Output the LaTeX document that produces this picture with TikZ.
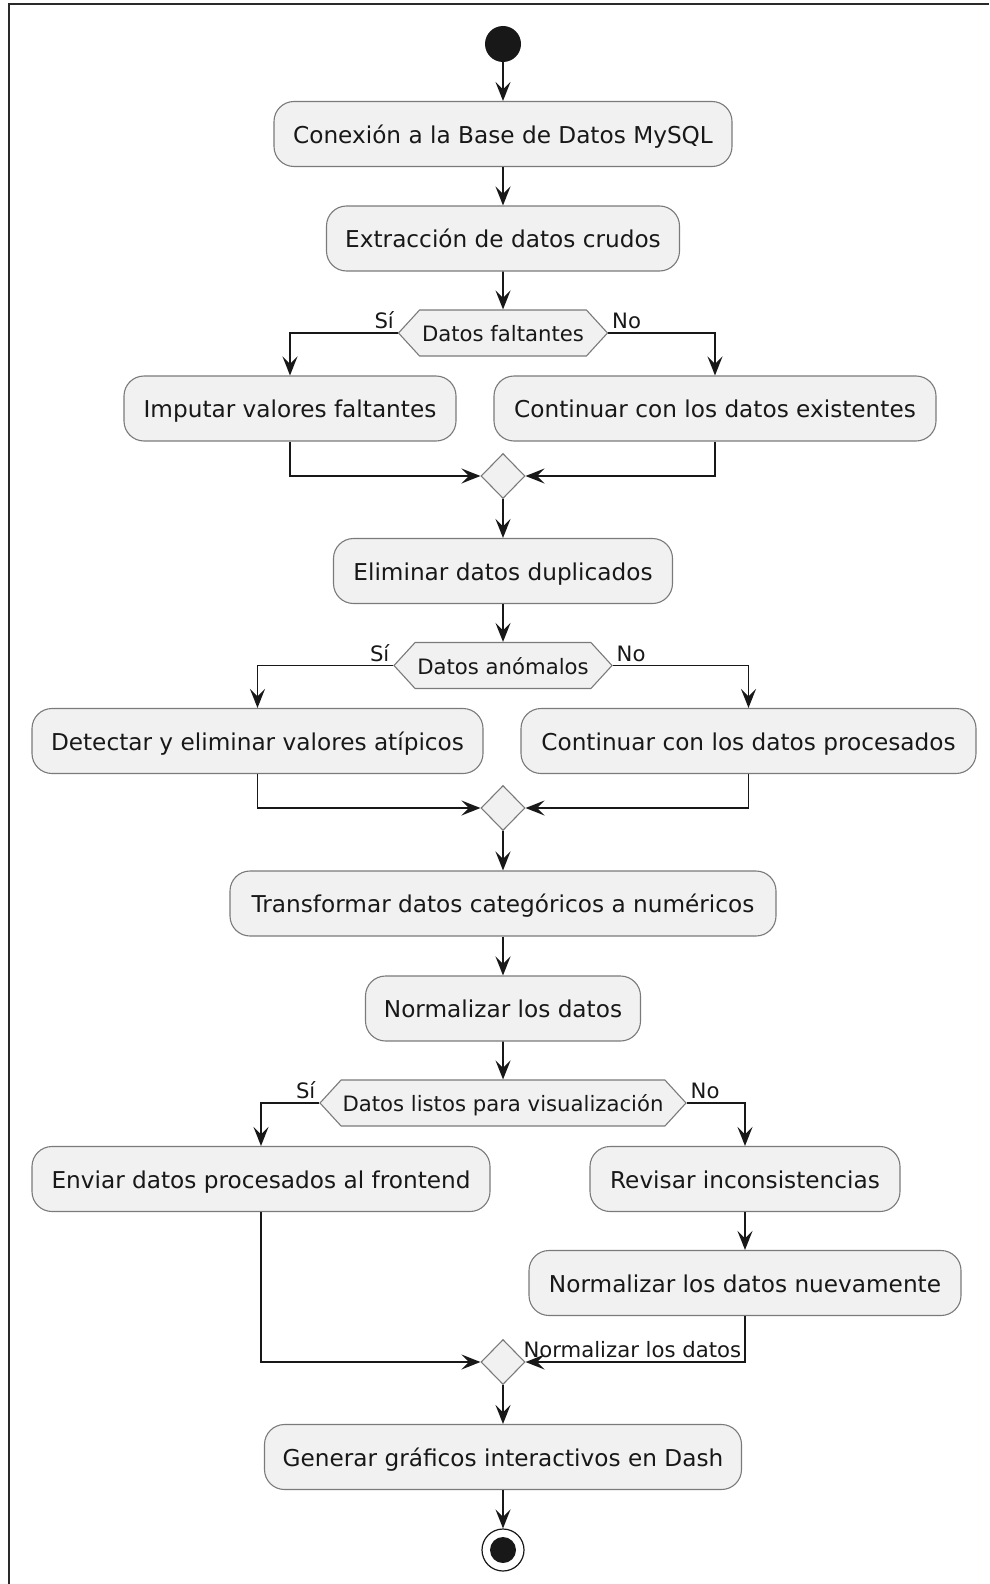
\documentclass[tikz,border=0pt]{standalone}
\usepackage{fontspec}
\setmainfont{DejaVu Sans}
\usetikzlibrary{arrows.meta,shapes.geometric,shapes.symbols}
\definecolor{actfill}{HTML}{F1F1F1}
\definecolor{actline}{HTML}{181818}
\definecolor{edgegray}{HTML}{7A7A7A}
\definecolor{framecol}{HTML}{2A2A2A}

\tikzset{
  act/.style={draw=edgegray, line width=1.1pt, fill=actfill, rounded corners=20pt,
    minimum height=65pt, inner sep=0pt, text=actline,
    text height=19pt, text depth=0.5pt,
    font=\fontsize{23.2}{28}\selectfont},
  test/.style={signal, signal to=west and east, signal pointer angle=95,
    draw=edgegray, line width=1.1pt, fill=actfill, minimum height=46pt,
    inner sep=0pt, text=actline, text height=17.5pt, text depth=0pt,
    font=\fontsize{21.2}{25}\selectfont},
  merge/.style={diamond, draw=edgegray, line width=1.1pt, fill=actfill,
    minimum width=44pt, minimum height=45pt, inner sep=0pt},
  flow/.style={draw=actline, line width=1.8pt,
    -{Stealth[length=19pt,width=15pt,inset=7.5pt]}},
  lbl/.style={font=\fontsize{21.2}{25}\selectfont, inner sep=3pt, text=actline},
}

\begin{document}
\begin{tikzpicture}[x=1pt, y=-1pt]
\useasboundingbox (0,0) rectangle (989,1584);
% page frame (top and left edges)
\draw[framecol, line width=2pt] (9,1584) -- (9,4.5) -- (989,4.5);

% activities
\node[circle, fill=actline, minimum size=36pt, inner sep=0pt] (start) at (503,44) {};
\node[act, minimum width=458pt] (b1) at (503,134) {Conexión a la Base de Datos MySQL};
\node[act, minimum width=353pt] (b2) at (503,238.5) {Extracción de datos crudos};
\node[test, minimum width=209pt] (h1) at (503,333) {Datos faltantes};
\node[act, minimum width=332pt] (b3) at (290,408.5) {Imputar valores faltantes};
\node[act, minimum width=442pt] (b4) at (715,408.5) {Continuar con los datos existentes};
\node[merge] (m1) at (503,476) {};
\node[act, minimum width=339pt] (b5) at (503,571) {Eliminar datos duplicados};
\node[test, minimum width=218pt] (h2) at (503,665.5) {Datos anómalos};
\node[act, minimum width=451pt] (b6) at (257.5,741) {Detectar y eliminar valores atípicos};
\node[act, minimum width=455pt] (b7) at (748.5,741) {Continuar con los datos procesados};
\node[merge] (m2) at (503,808) {};
\node[act, minimum width=546pt] (b8) at (503,903.5) {Transformar datos categóricos a numéricos};
\node[act, minimum width=275pt] (b9) at (503,1008.5) {Normalizar los datos};
\node[test, minimum width=366pt] (h3) at (503,1103) {Datos listos para visualización};
\node[act, minimum width=458pt] (b10) at (261,1179) {Enviar datos procesados al frontend};
\node[act, minimum width=310pt] (b11) at (745,1179) {Revisar inconsistencias};
\node[act, minimum width=432pt] (b12) at (745,1283) {Normalizar los datos nuevamente};
\node[merge] (m3) at (503,1362) {};
\node[act, minimum width=477pt] (b13) at (503,1457) {Generar gráficos interactivos en Dash};
\node[circle, draw=actline, line width=1.2pt, fill=white, minimum size=42pt, inner sep=0pt] (stop) at (503,1550) {};
\node[circle, fill=actline, minimum size=26pt, inner sep=0pt] (stopdot) at (stop.center) {};

% control flow
\draw[flow] (start) -- (b1);
\draw[flow] (b1) -- (b2);
\draw[flow] (b2) -- (h1);
\draw[flow] (h1.west) -| node[lbl, pos=0, anchor=south east] {Sí} (b3.north);
\draw[flow] (h1.east) -| node[lbl, pos=0, anchor=south west] {No} (b4.north);
\draw[flow] (b3.south) |- (m1.west);
\draw[flow] (b4.south) |- (m1.east);
\draw[flow] (m1) -- (b5);
\draw[flow] (b5) -- (h2);
\draw[flow] (h2.west) -| node[lbl, pos=0, anchor=south east] {Sí} (b6.north);
\draw[flow] (h2.east) -| node[lbl, pos=0, anchor=south west] {No} (b7.north);
\draw[flow] (b6.south) |- (m2.west);
\draw[flow] (b7.south) |- (m2.east);
\draw[flow] (m2) -- (b8);
\draw[flow] (b8) -- (b9);
\draw[flow] (b9) -- (h3);
\draw[flow] (h3.west) -| node[lbl, pos=0, anchor=south east] {Sí} (b10.north);
\draw[flow] (h3.east) -| node[lbl, pos=0, anchor=south west] {No} (b11.north);
\draw[flow] (b11) -- (b12);
\draw[flow] (b10.south) |- (m3.west);
\draw[flow] (b12.south) |- node[lbl, pos=0.5, anchor=south east] {Normalizar los datos} (m3.east);
\draw[flow] (m3) -- (b13);
\draw[flow] (b13) -- (stop);
\end{tikzpicture}
\end{document}
